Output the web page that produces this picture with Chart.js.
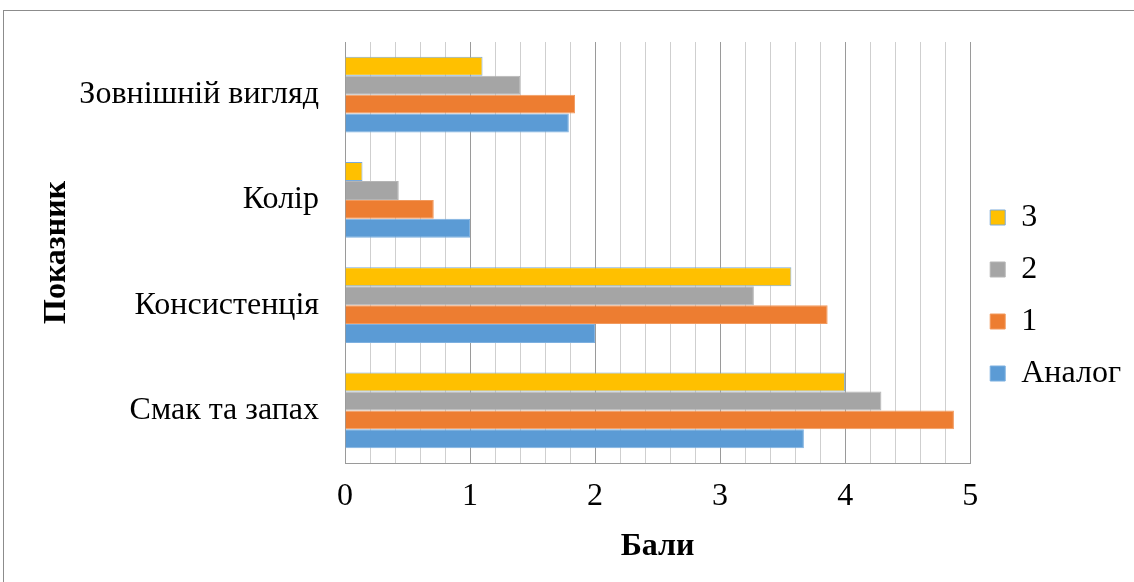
<!DOCTYPE html>
<html>
<head>
<meta charset="utf-8">
<script src="https://cdn.jsdelivr.net/npm/chart.js@4.4.1/dist/chart.umd.min.js"></script>
<style>
  html, body { margin: 0; padding: 0; background: #fff; }
  #wrap { position: relative; width: 1134px; height: 582px; overflow: hidden; }
  #frame { position: absolute; left: 3px; top: 10px; width: 1200px; height: 700px;
           border-left: 1px solid #8c8c8c; border-top: 1px solid #8c8c8c; pointer-events: none; }
  canvas { position: absolute; left: 0; top: 0; }
</style>
</head>
<body>
<div id="wrap">
  <div id="frame"></div>
  <canvas id="chart" width="1134" height="582"></canvas>
</div>
<script>
// Показники та бальні оцінки зразків
const categories = ['Зовнішній вигляд', 'Колір', 'Консистенція', 'Смак та запах'];
const seriesNames = ['3', '2', '1', 'Аналог'];
const sample3 = [1.10, 0.14, 3.57, 4.00];
const sample2 = [1.40, 0.43, 3.27, 4.29];
const sample1 = [1.84, 0.71, 3.86, 4.87];
const analog  = [1.79, 1.00, 2.00, 3.67];
const xTicks = [0, 1, 2, 3, 4, 5];

const fills   = ['#FFC000', '#A5A5A5', '#ED7D31', '#5B9BD5'];
const borders = ['#7AAADB', '#B5B5B5', '#F29A5E', '#7DB0E0'];
const values  = [sample3, sample2, sample1, analog];

const serif = '"Liberation Serif", "Times New Roman", serif';
const isWhole = v => Math.abs(v - Math.round(v)) < 1e-6;

new Chart(document.getElementById('chart'), {
  type: 'bar',
  data: {
    labels: categories,
    datasets: seriesNames.map((name, i) => ({
      label: name,
      data: values[i],
      backgroundColor: fills[i],
      borderColor: borders[i],
      borderWidth: 1,
      categoryPercentage: 0.72,
      barPercentage: 1.0
    }))
  },
  options: {
    indexAxis: 'y',
    responsive: false,
    animation: false,
    layout: { padding: { top: 42, right: 3, bottom: 33, left: 0 } },
    scales: {
      x: {
        min: 0,
        max: 5,
        ticks: {
          stepSize: 0.2,
          autoSkip: false,
          maxRotation: 0,
          padding: 14,
          color: '#000',
          font: { family: serif, size: 32 },
          callback: v => (isWhole(v) && xTicks.includes(Math.round(v))) ? String(Math.round(v)) : ''
        },
        grid: {
          drawTicks: false,
          lineWidth: 1,
          color: ctx => (ctx.tick && isWhole(ctx.tick.value)) ? '#9a9a9a' : '#cfcfcf'
        },
        border: { display: true, color: '#9a9a9a', width: 1 },
        title: {
          display: true,
          text: 'Бали',
          color: '#000',
          font: { family: serif, size: 32, weight: 'bold' },
          padding: { top: 0, bottom: -17 }
        },
        afterFit: s => { s.height = 86; }
      },
      y: {
        ticks: {
          padding: 26,
          color: '#000',
          font: { family: serif, size: 32, lineHeight: 1 }
        },
        grid: { display: false, drawTicks: false },
        border: { display: true, color: '#9a9a9a', width: 1 },
        title: {
          display: true,
          text: 'Показник',
          color: '#000',
          font: { family: serif, size: 32, weight: 'bold' },
          padding: { top: 38, bottom: 0 }
        },
        afterFit: s => { s.width = 345; }
      }
    },
    plugins: {
      legend: {
        position: 'right',
        labels: {
          boxWidth: 15,
          boxHeight: 15,
          padding: 20,
          color: '#000',
          font: { family: serif, size: 32 }
        }
      },
      tooltip: { enabled: false }
    }
  }
});
</script>
</body>
</html>
